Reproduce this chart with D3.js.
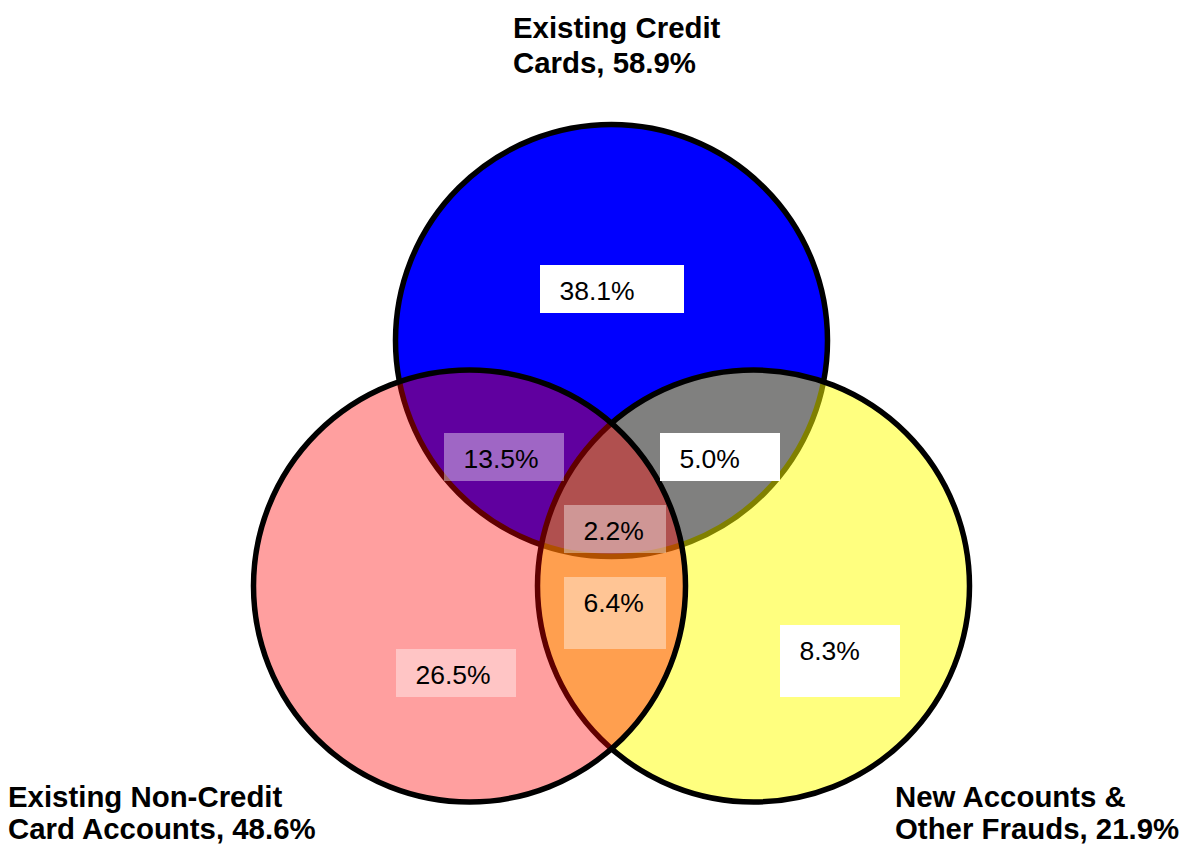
<!DOCTYPE html>
<html>
<head>
<meta charset="utf-8">
<script src="https://cdn.jsdelivr.net/npm/d3@7"></script>
<style>
  html, body { margin: 0; padding: 0; background: #ffffff; }
  svg { display: block; }
</style>
</head>
<body>
<svg id="chart" width="1181" height="844"></svg>
<script>
// ---------- data ----------
const setKeys = ["A", "B", "C"];
const setNameLines = [
  ["Existing Credit", "Cards"],
  ["Existing Non-Credit", "Card Accounts"],
  ["New Accounts &", "Other Frauds"]
];
const setTotals = [58.9, 48.6, 21.9];

const regionKeys = ["A", "AB", "AC", "ABC", "BC", "B", "C"];
const regionValues = [38.1, 13.5, 5.0, 2.2, 6.4, 26.5, 8.3];

// ---------- layout (not data) ----------
const W = 1181, H = 844;
const svg = d3.select("#chart");

// unit geometry: circle radius = 1
const unitCenters = { A: [0, -1.1366], B: [-0.6574, 0], C: [0.6574, 0] };
const R = 216;
const x = d3.scaleLinear().domain([0, 1]).range([611.5, 611.5 + R]);
const y = d3.scaleLinear().domain([0, 1]).range([586, 586 + R]);
const rad = d3.scaleLinear().domain([0, 1]).range([0, R]);

const circleStyle = {
  A: { fill: "#0000ff", op: 1 },
  C: { fill: "#ffff00", op: 0.5 },
  B: { fill: "#ff0000", op: 0.376 }
};
const drawOrder = ["A", "C", "B"];

svg.append("g").selectAll("circle")
  .data(drawOrder)
  .join("circle")
  .attr("cx", k => x(unitCenters[k][0]))
  .attr("cy", k => y(unitCenters[k][1]))
  .attr("r", rad(1))
  .attr("fill", k => circleStyle[k].fill)
  .attr("fill-opacity", k => circleStyle[k].op)
  .attr("stroke", "#000")
  .attr("stroke-width", 5.5);

// region label boxes: [left, top, width, height] in pixels
const boxLayout = {
  A:   [540, 265, 144, 48],
  AB:  [444, 433, 120, 48],
  AC:  [660, 433, 120, 48],
  ABC: [564, 505, 102, 48],
  BC:  [564, 577, 102, 72],
  B:   [396, 649, 120, 48],
  C:   [780, 625, 120, 72]
};

const regions = regionKeys.map((k, i) => ({ key: k, value: regionValues[i] }));
const rg = svg.append("g").selectAll("g")
  .data(regions)
  .join("g")
  .attr("transform", d => `translate(${boxLayout[d.key][0]},${boxLayout[d.key][1]})`);

rg.append("rect")
  .attr("width", d => boxLayout[d.key][2])
  .attr("height", d => boxLayout[d.key][3])
  .attr("fill", "#ffffff")
  .attr("fill-opacity", d => d.key.includes("B") ? 0.4 : 1);

rg.append("text")
  .attr("x", 19.5)
  .attr("y", 34.5)
  .attr("font-family", "'Liberation Sans', Arial, sans-serif")
  .attr("font-size", 26.5)
  .attr("fill", "#000")
  .text(d => d.value.toFixed(1) + "%");

// set titles
const titleLayout = {
  A: { x: 513, y: [37.5, 72.5] },
  B: { x: 8,   y: [807, 839] },
  C: { x: 895, y: [807, 839] }
};
const sets = setKeys.map((k, i) => ({
  key: k,
  lines: [setNameLines[i][0], setNameLines[i][1] + ", " + setTotals[i].toFixed(1) + "%"]
}));

const tg = svg.append("g").selectAll("text")
  .data(sets)
  .join("text")
  .attr("font-family", "'Liberation Sans', Arial, sans-serif")
  .attr("font-size", 29.4)
  .attr("font-weight", "bold")
  .attr("fill", "#000");

tg.selectAll("tspan")
  .data(d => d.lines.map((t, j) => ({ t, j, key: d.key })))
  .join("tspan")
  .attr("x", d => titleLayout[d.key].x)
  .attr("y", d => titleLayout[d.key].y[d.j])
  .text(d => d.t);
</script>
</body>
</html>
